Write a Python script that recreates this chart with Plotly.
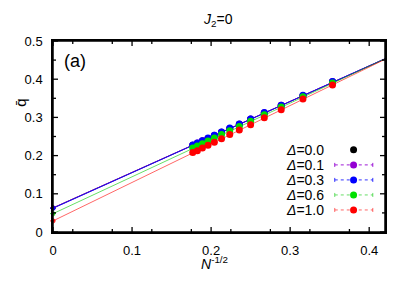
import plotly.graph_objects as go

# ---- data ----
x_vals = [0.1768, 0.1826, 0.1890, 0.1961, 0.2041, 0.2132, 0.2236, 0.2357, 0.2500, 0.2673, 0.2887, 0.3162, 0.3536]
deltas = ["0.0", "0.1", "0.3", "0.6", "1.0"]
q_d00 = [0.227, 0.232, 0.238, 0.245, 0.252, 0.261, 0.270, 0.282, 0.295, 0.311, 0.331, 0.357, 0.393]
q_d01 = [0.227, 0.233, 0.239, 0.245, 0.253, 0.261, 0.271, 0.282, 0.296, 0.312, 0.332, 0.357, 0.393]
q_d03 = [0.228, 0.233, 0.239, 0.246, 0.253, 0.262, 0.272, 0.283, 0.296, 0.313, 0.332, 0.358, 0.394]
q_d06 = [0.220, 0.225, 0.231, 0.238, 0.246, 0.255, 0.265, 0.276, 0.290, 0.307, 0.327, 0.354, 0.390]
q_d10 = [0.208, 0.213, 0.220, 0.227, 0.235, 0.244, 0.255, 0.267, 0.281, 0.299, 0.320, 0.348, 0.385]
series_q = [q_d00, q_d01, q_d03, q_d06, q_d10]
# extrapolated values at N^-1/2 = 0 and their errors
q_inf = [0.063, 0.063, 0.062, 0.048, 0.029]
q_inf_err = [0.003, 0.003, 0.003, 0.003, 0.003]
# linear fits: intercept, slope
fit_a = [0.063, 0.063, 0.062, 0.048, 0.029]
fit_b = [0.929, 0.930, 0.932, 0.965, 1.007]
x_fit = [0.0, 0.42]
colors = ["#000000", "#9400D3", "#0000FF", "#00E000", "#FF0000"]
line_colors = ["rgba(0,0,0,0.8)", "rgba(148,0,211,0.9)", "rgba(0,0,255,0.8)", "rgba(0,200,0,0.6)", "rgba(255,0,0,0.6)"]
x_ticks = [0, 0.1, 0.2, 0.3, 0.4]
y_ticks = [0, 0.1, 0.2, 0.3, 0.4, 0.5]
x_minor = [0.025, 0.075, 0.125, 0.175, 0.225, 0.275, 0.325, 0.375]
y_minor = [0.05, 0.15, 0.25, 0.35, 0.45]
x_range = [0, 0.42]
y_range = [0, 0.5]

FONT = "Liberation Sans, Arial, sans-serif"

fig = go.Figure()

# fit lines
for i in range(5):
    fig.add_trace(go.Scatter(
        x=x_fit, y=[fit_a[i] + fit_b[i] * xv for xv in x_fit],
        mode="lines", line=dict(color=line_colors[i], width=1),
        showlegend=False, hoverinfo="skip"))

# data points
for i in range(5):
    fig.add_trace(go.Scatter(
        x=x_vals, y=series_q[i], mode="markers",
        marker=dict(color=colors[i], size=7, line=dict(width=0)),
        showlegend=False))

# extrapolated points
for i in range(5):
    fig.add_trace(go.Scatter(
        x=[0.0], y=[q_inf[i]], mode="markers",
        marker=dict(color=colors[i], size=4, symbol="cross-thin", line=dict(color=colors[i], width=1)),
        error_y=dict(type="data", array=[q_inf_err[i]], color=line_colors[i], thickness=1, width=2),
        error_x=dict(type="data", array=[0.002], color=line_colors[i], thickness=1, width=2),
        showlegend=False, cliponaxis=False))

# ---- tick marks inside on all sides ----
L, R, T, B = 53, 384.7, 41.3, 232.0
W, H = R - L, B - T
dx_per_px = (x_range[1] - x_range[0]) / W
dy_per_px = (y_range[1] - y_range[0]) / H
fx, fy = [], []
for xv in x_ticks + x_minor:
    ln = (5 if xv in x_ticks else 3) * dy_per_px
    fx += [xv, xv, None, xv, xv, None]
    fy += [y_range[0], y_range[0] + ln, None, y_range[1], y_range[1] - ln, None]
for yv in y_ticks + y_minor:
    ln = (5 if yv in y_ticks else 3) * dx_per_px
    fx += [x_range[0], x_range[0] + ln, None, x_range[1], x_range[1] - ln, None]
    fy += [yv, yv, None, yv, yv, None]
fig.add_trace(go.Scatter(x=fx, y=fy, mode="lines", line=dict(color="#000000", width=1.3),
                         showlegend=False, hoverinfo="skip", connectgaps=False))

# ---- manual legend (gnuplot style: text left, sample right) ----
def px(xp):
    return (xp - L) / W
def py(yp):
    return (B - yp) / H

rows = [150, 165, 180, 195, 210]
shapes = []
annotations = []
for i, d in enumerate(deltas):
    yy = py(rows[i])
    annotations.append(dict(
        x=px(326), y=yy, xref="paper", yref="paper", xanchor="right", yanchor="middle",
        text="<i>Δ</i>=" + d, showarrow=False, font=dict(family=FONT, size=14, color="black")))
    if i > 0:
        shapes.append(dict(type="line", xref="paper", yref="paper",
                           x0=px(334.5), x1=px(372.5), y0=yy, y1=yy,
                           line=dict(color=line_colors[i], width=1, dash="dot")))
        for xe in (334.5, 372.5):
            shapes.append(dict(type="line", xref="paper", yref="paper",
                               x0=px(xe), x1=px(xe), y0=py(rows[i] - 2), y1=py(rows[i] + 2),
                               line=dict(color=line_colors[i], width=1)))
    shapes.append(dict(type="circle", xref="paper", yref="paper",
                       xsizemode="pixel", ysizemode="pixel",
                       xanchor=px(353.3), yanchor=yy, x0=-3.5, x1=3.5, y0=-3.5, y1=3.5,
                       fillcolor=colors[i], line=dict(width=0)))

# frame box
shapes.append(dict(type="rect", xref="paper", yref="paper", x0=0, x1=1, y0=0, y1=1,
                   line=dict(color="#000000", width=1.5), layer="above"))

annotations += [
    dict(x=px(218), y=py(20), xref="paper", yref="paper", text="<i>J</i><sub>2</sub>=0",
         showarrow=False, font=dict(family=FONT, size=14, color="black"), xanchor="center", yanchor="middle"),
    dict(x=px(62), y=py(61), xref="paper", yref="paper", text="(a)", xanchor="left", yanchor="middle",
         showarrow=False, font=dict(family=FONT, size=18, color="black")),
    dict(x=px(214), y=py(263), xref="paper", yref="paper", text="<i>N</i><sup>-1/2</sup>",
         showarrow=False, font=dict(family=FONT, size=14, color="black"), xanchor="center", yanchor="middle"),
    dict(x=px(21), y=py(103), xref="paper", yref="paper", text="q\u0304", textangle=-90,
         showarrow=False, font=dict(family=FONT, size=15, color="black"), xanchor="center", yanchor="middle"),
]

axis_common = dict(showline=True, linecolor="#000000", linewidth=1.5, mirror=True,
                   ticks="", showgrid=False, zeroline=False,
                   tickfont=dict(family=FONT, size=13, color="black"))

fig.update_layout(
    width=409, height=286,
    margin=dict(l=L, r=409 - R, t=T, b=286 - B, pad=0),
    paper_bgcolor="white", plot_bgcolor="white",
    showlegend=False,
    xaxis=dict(range=x_range, tickvals=x_ticks, ticktext=[str(v) for v in x_ticks],
               ticklabelstandoff=6, **axis_common),
    yaxis=dict(range=y_range, tickvals=y_ticks, ticktext=[str(v) for v in y_ticks],
               ticklabelstandoff=6, **axis_common),
    shapes=shapes, annotations=annotations,
)

fig.write_html("out.html", config={"displayModeBar": False},
               post_script="document.body.style.margin='0';document.body.style.overflow='hidden';")
